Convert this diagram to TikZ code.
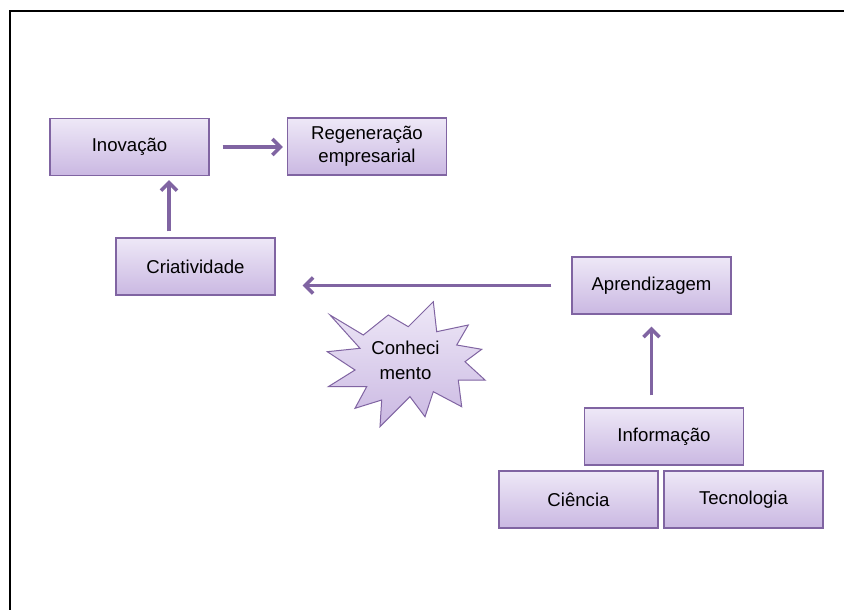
\documentclass[tikz,border=0pt]{standalone}
\usepackage{fontspec}
\setmainfont{Liberation Sans}
\usetikzlibrary{arrows.meta,calc}
\definecolor{boxtop}{RGB}{238,232,247}
\definecolor{boxbot}{RGB}{202,184,226}
\definecolor{boxline}{RGB}{128,100,162}
\definecolor{arrcol}{RGB}{128,100,162}
\tikzset{
  box/.style={draw=boxline, line width=1.3pt, top color=boxtop, bottom color=boxbot,
    minimum width=159pt, minimum height=57pt, inner sep=0pt, align=center,
    font=\fontsize{18.6}{23}\selectfont, text=black},
  arr/.style={draw=arrcol, line width=3.6pt, -{Straight Barb[length=8pt,width=16pt]}},
}
\begin{document}
\begin{tikzpicture}[x=1pt,y=-1pt]
\useasboundingbox (0,0) rectangle (844,610);
\fill[white] (0,0) rectangle (844,610);
% frame
\draw[black, line width=2pt] (10,611) -- (10,11) -- (845,11);
% boxes
\node[box] (inov) at (129.5,147) {Inovação};
\node[box] (regen) at (367,146.5) {Regeneração\\empresarial};
\node[box] (criat) at (195.5,266.5) {Criatividade};
\node[box] (apren) at (651.5,285.5) {Aprendizagem};
\node[box] (info) at (664,436.5) {Informação};
\node[box] (cien) at (578.5,499.5) {Ciência};
\node[box] (tecn) at (743.5,499.5) {Tecnologia};
% starburst
\path[draw=boxline, line width=1pt, top color=boxtop, bottom color=boxbot]
  (330,315) -- (363.3,335) -- (388.3,315) -- (408.3,326.7) -- (433.3,301.7) --
  (436.7,331.7) -- (468.3,325) -- (456.7,345) -- (481.7,349.3) -- (465,361.7) --
  (485,380) -- (458.3,380) -- (461.7,406.7) -- (433.3,391.7) -- (425,416.7) --
  (410,396.7) -- (380,426.7) -- (381.7,400) -- (355,408.3) -- (366.7,386.7) --
  (328.3,386.7) -- (355,370) -- (327.3,351.7) -- (360,348.3) -- cycle;
\node[align=center, font=\fontsize{18.6}{25}\selectfont, text=black] (conh) at (405.5,360.5) {Conheci\\mento};
% arrows
\coordinate (ax1) at (169,0);
\draw[arr, shorten <=13pt, shorten >=4pt] (inov.east) -- (regen.west |- inov.east);
\draw[arr, shorten <=6pt, shorten >=4pt] (criat.north -| ax1) -- (inov.south -| ax1);
\draw[arr, shorten <=20pt, shorten >=27pt] (apren.west) -- (apren.west -| criat.east);
\draw[arr, shorten <=12pt, shorten >=12pt] (info.north -| apren.south) -- (apren.south);
\end{tikzpicture}
\end{document}
